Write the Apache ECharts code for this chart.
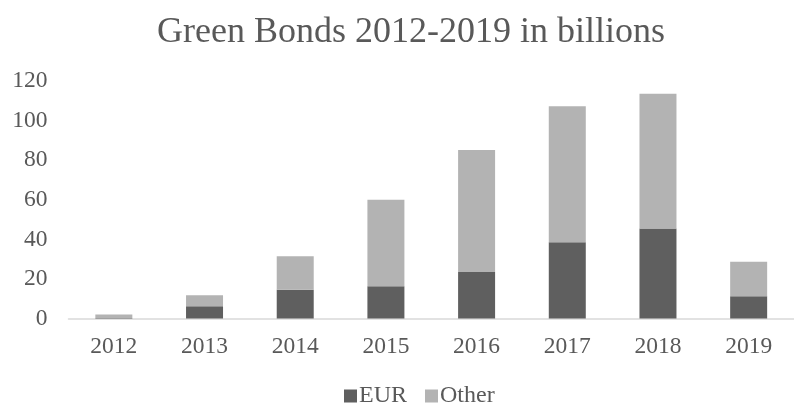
<!DOCTYPE html>
<html>
<head>
<meta charset="utf-8">
<script src="https://cdn.jsdelivr.net/npm/echarts@6/dist/echarts.min.js"></script>
<style>html,body{margin:0;padding:0;background:#fff}#c{width:794px;height:406px}</style>
</head>
<body>
<div id="c"></div>
<script>
const categories = ['2012','2013','2014','2015','2016','2017','2018','2019'];
const eurValues = [0.3, 6.2, 14.5, 16.3, 23.5, 38.5, 45.5, 11.2];
const otherValues = [1.7, 5.5, 16.9, 43.7, 61.7, 68.8, 68.0, 17.5];
const seriesNames = ['EUR', 'Other'];
const yTicks = {min: 0, max: 120, interval: 20};

const font = '"Liberation Serif", "Times New Roman", serif';
const chart = echarts.init(document.getElementById('c'));
chart.setOption({
  animation: false,
  backgroundColor: '#ffffff',
  title: {
    text: 'Green Bonds 2012-2019 in billions',
    left: 406, textAlign: 'center', top: 10,
    textStyle: {fontFamily: font, fontSize: 36, fontWeight: 'normal', color: '#595959'}
  },
  legend: {
    data: seriesNames,
    left: 339, top: 379,
    itemWidth: 13, itemHeight: 13, itemGap: 18,
    icon: 'rect',
    textStyle: {fontFamily: font, fontSize: 24, color: '#595959', padding: [0,0,0,-3]}
  },
  grid: {left: 68.5, top: 81, width: 739, bottom: 87.5, containLabel: false},
  xAxis: {
    type: 'category', data: categories,
    axisLine: {lineStyle: {color: '#d9d9d9', width: 1.5}},
    axisTick: {show: false},
    axisLabel: {fontFamily: font, fontSize: 23.5, color: '#595959', margin: 16}
  },
  yAxis: {
    type: 'value', min: yTicks.min, max: yTicks.max, interval: yTicks.interval,
    axisLine: {show: false}, axisTick: {show: false}, splitLine: {show: false},
    axisLabel: {fontFamily: font, fontSize: 23.5, color: '#595959', margin: 21}
  },
  series: [
    {name: seriesNames[0], type: 'bar', stack: 't', data: eurValues, barWidth: 37,
     itemStyle: {color: '#5f5f5f'}},
    {name: seriesNames[1], type: 'bar', stack: 't', data: otherValues, barWidth: 37,
     itemStyle: {color: '#b3b3b3'}}
  ]
});
</script>
</body>
</html>
